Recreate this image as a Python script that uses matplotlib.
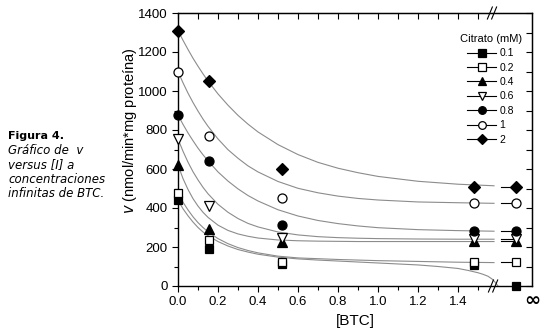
import matplotlib.pyplot as plt
from matplotlib.lines import Line2D
from matplotlib.ticker import FixedLocator

plt.rcParams['font.family'] = ['Liberation Sans', 'DejaVu Sans']

# measured points: [BTC] and rate v for each citrate level
btc = [0.0, 0.155, 0.52, 1.48]
inf_pos = 1.69  # where the "infinite BTC" column sits on the axis

citrato = ['0.1', '0.2', '0.4', '0.6', '0.8', '1', '2']
v_01 = [440, 190, 112, 108]
v_02 = [477, 236, 124, 121]
v_04 = [620, 292, 228, 230]
v_06 = [754, 408, 245, 240]
v_08 = [877, 641, 312, 280]
v_1 = [1097, 767, 451, 425]
v_2 = [1310, 1052, 600, 508]
v_inf = [0, 122, 230, 240, 280, 425, 508]

# fitted curves
curve_x = [0, 0.025, 0.05, 0.075, 0.1, 0.125, 0.15, 0.2, 0.25, 0.3, 0.35, 0.4,
           0.5, 0.6, 0.7, 0.8, 0.9, 1.0, 1.2, 1.4, 1.58]
fit_02 = [477, 430, 390, 355, 325, 300, 278, 243, 217, 197, 182, 170,
          153, 144, 140, 136, 133, 130, 126, 122, 120]
fit_04 = [620, 551, 495, 448, 410, 378, 352, 312, 285, 267, 255, 246,
          236, 232, 230, 229, 228, 228, 228, 228, 228]
fit_06 = [754, 691, 635, 586, 544, 506, 473, 419, 378, 346, 321, 303,
          277, 262, 253, 248, 245, 243, 241, 240, 240]
fit_08 = [877, 829, 785, 745, 707, 673, 642, 585, 538, 498, 464, 436,
          391, 359, 336, 320, 308, 299, 289, 284, 281]
fit_1 = [1100, 1042, 989, 941, 897, 856, 819, 754, 699, 655, 616, 585,
         536, 501, 478, 461, 449, 441, 431, 427, 424]
fit_2 = [1310, 1260, 1213, 1168, 1127, 1088, 1051, 985, 927, 875, 830, 790,
         725, 674, 634, 604, 581, 562, 537, 522, 514]
fit01_x = [0, 0.025, 0.05, 0.075, 0.1, 0.125, 0.15, 0.2, 0.25, 0.3, 0.35, 0.4,
           0.5, 0.6, 0.7, 0.8, 0.9, 1.0, 1.2, 1.3, 1.4, 1.45, 1.5, 1.525,
           1.55, 1.57, 1.585, 1.6]
fit_01 = [440, 396, 360, 328, 300, 277, 258, 228, 205, 187, 174, 163,
          148, 139, 133, 128, 123, 118, 108, 100, 90, 80, 68, 60,
          50, 36, 20, 0]

x_major = [0.0, 0.2, 0.4, 0.6, 0.8, 1.0, 1.2, 1.4]
x_minor = [0.1, 0.3, 0.5, 0.7, 0.9, 1.1, 1.3, 1.5]
y_major = [0, 200, 400, 600, 800, 1000, 1200, 1400]
y_minor = [100, 300, 500, 700, 900, 1100, 1300]

series = [v_01, v_02, v_04, v_06, v_08, v_1, v_2]
fits = [(fit01_x, fit_01), (curve_x, fit_02), (curve_x, fit_04), (curve_x, fit_06),
        (curve_x, fit_08), (curve_x, fit_1), (curve_x, fit_2)]
markers = ['s', 's', '^', 'v', 'o', 'o', 'D']
faces = ['black', 'white', 'black', 'white', 'black', 'white', 'black']
sizes = [6, 6, 6.5, 6.5, 6.5, 6.5, 5.8]

fig = plt.figure(figsize=(5.45, 3.34), dpi=100)
ax = fig.add_axes([178 / 545, 1 - 286 / 334, 354 / 545, 273 / 334])

for (fx, fy) in fits:
    ax.plot(fx, fy, color='#8c8c8c', lw=0.8, zorder=1)

for vals, vinf, m, fc, ms in zip(series, v_inf, markers, faces, sizes):
    if vinf > 0:
        ax.plot([1.615, inf_pos], [vinf, vinf], color='black', lw=0.8, zorder=2)
    ax.plot(btc + [inf_pos], vals + [vinf], ls='none', marker=m, mfc=fc, mec='black',
            mew=0.9, ms=ms, clip_on=False, zorder=3)

ax.set_xlim(0, 1.77)
ax.set_ylim(0, 1400)
ax.xaxis.set_major_locator(FixedLocator(x_major))
ax.xaxis.set_minor_locator(FixedLocator(x_minor))
ax.yaxis.set_major_locator(FixedLocator(y_major))
ax.yaxis.set_minor_locator(FixedLocator(y_minor))
ax.set_xticklabels([f'{t:.1f}' for t in x_major])
ax.tick_params(which='both', direction='out', labelsize=9.5, width=0.8)
ax.tick_params(which='major', length=4)
ax.tick_params(which='minor', length=3)
for lab in ax.get_xticklabels() + ax.get_yticklabels():
    lab.set_family(['Liberation Sans Narrow', 'Liberation Sans'])

top = ax.secondary_xaxis('top')
top.xaxis.set_major_locator(FixedLocator(x_major))
top.xaxis.set_minor_locator(FixedLocator(x_minor))
top.tick_params(which='both', direction='in', labeltop=False, width=0.8, length=4)
right = ax.secondary_yaxis('right')
right.yaxis.set_major_locator(FixedLocator(y_major))
right.yaxis.set_minor_locator(FixedLocator(y_minor))
right.tick_params(which='both', direction='in', labelright=False, width=0.8, length=4)

for sp in ax.spines.values():
    sp.set_linewidth(1.0)

ax.set_xlabel('[BTC]', fontsize=11, labelpad=4)
ax.set_ylabel('$v$ (nmol/min*mg proteína)', fontsize=10.5)
ax.yaxis.set_label_coords((139 - 178) / 354, (286 - 131) / 273)

# axis break marks
for x0 in (0.884, 0.896):
    ax.plot([x0 - 0.007, x0 + 0.007], [-0.022, 0.022], color='black', lw=0.8,
            transform=ax.transAxes, clip_on=False)
    ax.plot([x0 - 0.01, x0 + 0.004], [0.978, 1.022], color='black', lw=0.8,
            transform=ax.transAxes, clip_on=False)
fig.text(532 / 545, 1 - 300 / 334, '∞', fontsize=14, fontweight='bold',
         family='DejaVu Sans', ha='center', va='center')

handles = [Line2D([], [], color='black', lw=0.8, marker=m, mfc=fc, mec='black',
                  mew=0.9, ms=ms * 0.85)
           for m, fc, ms in zip(markers, faces, sizes)]
leg = ax.legend(handles, citrato, title='Citrato (mM)', loc='upper left',
                bbox_to_anchor=(0.775, 0.95), frameon=False, fontsize=7.5,
                title_fontsize=8, handlelength=2.8, handletextpad=0.3,
                labelspacing=0.42, borderpad=0.2)

caption = ['Gráfico de  v', 'versus [I] a', 'concentraciones', 'infinitas de BTC.']
fig.text(8 / 545, 1 - 136 / 334, 'Figura 4.', fontsize=8, fontweight='bold',
         family='DejaVu Sans', va='center')
for i, line in enumerate(caption):
    fig.text(8 / 545, 1 - (150.5 + 14.3 * i) / 334, line, fontsize=8.5,
             style='italic', family='DejaVu Sans', va='center')

fig.savefig('out.png', dpi=100)
